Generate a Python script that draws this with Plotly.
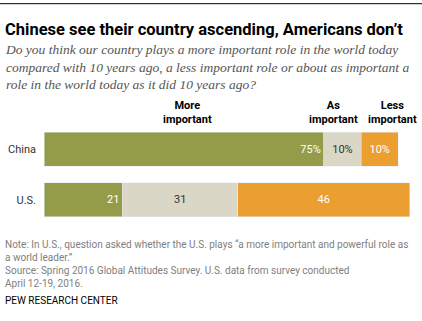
import plotly.graph_objects as go

categories = ["China", "U.S."]
more_important = [75, 21]
as_important = [10, 31]
less_important = [10, 46]
more_labels = ["75%", "21"]
as_labels = ["10%", "31"]
less_labels = ["10%", "46"]

W, H = 422, 321
L, R, T, B = 44, 5, 123.5, 95.5
PW, PH = W - L - R, H - T - B

def px(x):
    return (x - L) / PW

def py(y):
    return (H - B - y) / PH

GREEN = "#949C4A"
BEIGE = "#DAD7C6"
ORANGE = "#EA9F30"
body_font = "Roboto"

fig = go.Figure()
fig.add_trace(go.Bar(y=categories, x=more_important, orientation="h", marker_color=GREEN,
                     text=more_labels, textposition="inside", insidetextanchor="end",
                     textfont=dict(color="white", size=11, family=body_font), hoverinfo="skip"))
fig.add_trace(go.Bar(y=categories, x=as_important, orientation="h", marker_color=BEIGE,
                     text=as_labels, textposition="inside", insidetextanchor="middle",
                     textfont=dict(color="#333333", size=11, family=body_font), hoverinfo="skip"))
fig.add_trace(go.Bar(y=categories, x=less_important, orientation="h", marker_color=ORANGE,
                     text=less_labels, textposition="inside", insidetextanchor="middle",
                     textfont=dict(color="white", size=11, family=body_font), hoverinfo="skip"))

fig.update_layout(
    barmode="stack", bargap=0.333, width=W, height=H,
    margin=dict(l=L, r=R, t=T, b=B), plot_bgcolor="white", paper_bgcolor="white",
    showlegend=False, uniformtext=dict(minsize=8, mode="show"),
    xaxis=dict(range=[0, 100], visible=False, fixedrange=True),
    yaxis=dict(range=[1.5, -0.5], showgrid=False, zeroline=False, showline=False,
               ticks="", ticklabelstandoff=7, tickfont=dict(size=11, color="#333333", family=body_font)),
)

anns = []
anns.append(dict(x=px(3), y=py(16), text="<b>Chinese see their country ascending, Americans don’t</b>",
                 font=dict(size=16.5, color="#000000", family="Roboto")))
anns.append(dict(x=px(3), y=py(39),
                 text="<i>Do you think our country plays a more important role in the world today<br>"
                      "compared with 10 years ago, a less important role or about as important a<br>"
                      "role in the world today as it did 10 years ago?</i>",
                 font=dict(size=13.5, color="#555555", family="Liberation Serif"), align="left"))
for a in anns:
    a.update(xref="paper", yref="paper", xanchor="left", yanchor="top", showarrow=False)

headers = [(187, "More<br>important"), (333, "As<br>important"), (392, "Less<br>important")]
for x, t in headers:
    fig.add_annotation(x=px(x), y=py(96), xref="paper", yref="paper", xanchor="center", yanchor="top",
                       text="<b>" + t + "</b>", showarrow=False, align="center",
                       font=dict(size=11, color="#000000", family=body_font))

fig.add_annotation(x=px(3), y=py(238), xref="paper", yref="paper", xanchor="left", yanchor="top",
                   showarrow=False, align="left",
                   text="Note: In U.S., question asked whether the U.S. plays “a more important and powerful role as<br>"
                        "a world leader.”<br>"
                        "Source: Spring 2016 Global Attitudes Survey. U.S. data from survey conducted<br>"
                        "April 12-19, 2016.",
                   font=dict(size=10, color="#808080", family=body_font))
fig.add_annotation(x=px(3), y=py(294), xref="paper", yref="paper", xanchor="left", yanchor="top",
                   showarrow=False, align="left", text="PEW RESEARCH CENTER",
                   font=dict(size=10, color="#000000", family=body_font))
for a in anns:
    fig.add_annotation(**a)

fig.add_shape(type="line", xref="paper", yref="paper", x0=px(0), x1=px(W), y0=py(2), y1=py(2),
              line=dict(color="#000000", width=1))

fig.write_html("out.html")
